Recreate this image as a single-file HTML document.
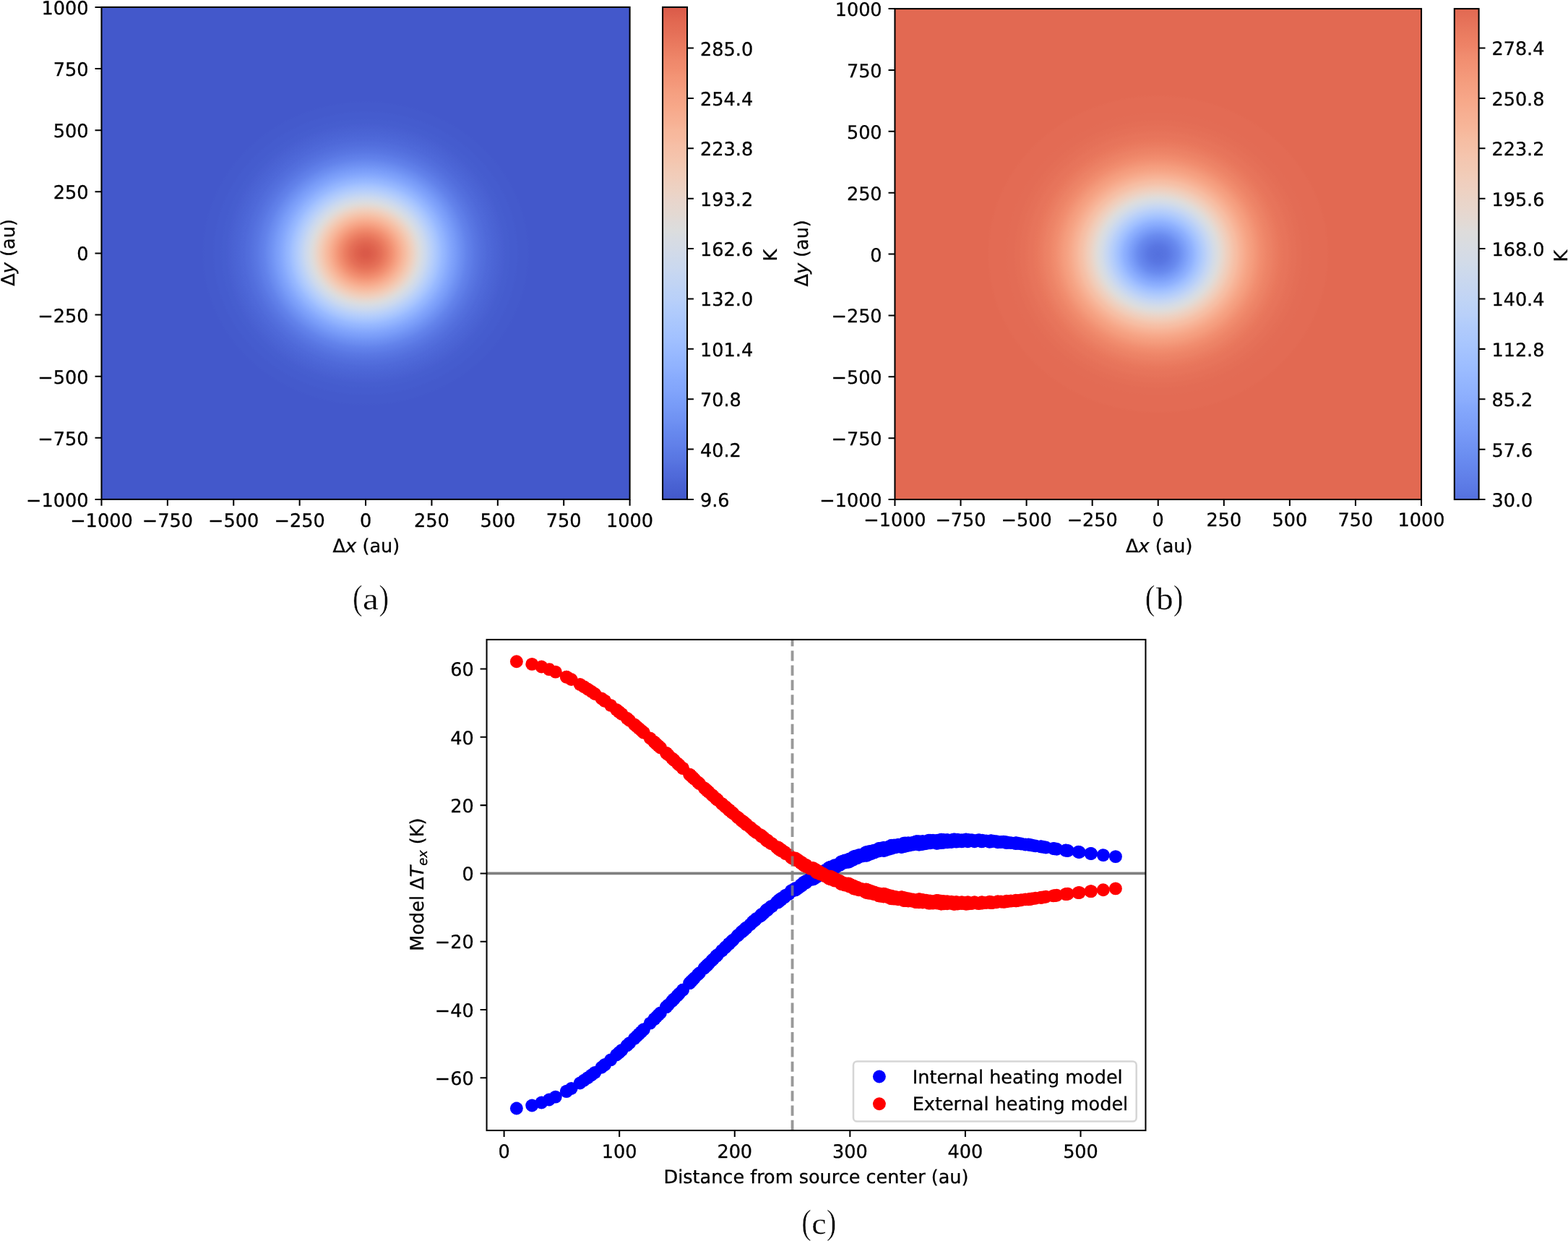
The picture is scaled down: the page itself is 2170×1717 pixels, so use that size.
<!DOCTYPE html>
<html lang="en"><head><meta charset="utf-8"><title>Heating models</title>
<style>html,body{margin:0;padding:0;background:#fff}svg{display:block}text{text-rendering:geometricPrecision}</style></head>
<body><svg width="2170" height="1717" viewBox="0 0 2170 1717"><rect width="2170" height="1717" fill="#fff"/><defs><radialGradient id="ga" gradientUnits="userSpaceOnUse" cx="0" cy="0" r="800" gradientTransform="translate(506.04 350.4) scale(0.36556 0.34050)"><stop offset="0%" stop-color="#da5a49"/><stop offset="1.25%" stop-color="#da5a49"/><stop offset="2.5%" stop-color="#dc5d4a"/><stop offset="3.75%" stop-color="#de614d"/><stop offset="5%" stop-color="#e0654f"/><stop offset="6.25%" stop-color="#e36b54"/><stop offset="7.5%" stop-color="#e57058"/><stop offset="8.75%" stop-color="#e9785d"/><stop offset="10%" stop-color="#ec7f63"/><stop offset="11.25%" stop-color="#ef886b"/><stop offset="12.5%" stop-color="#f29072"/><stop offset="13.75%" stop-color="#f49a7b"/><stop offset="15%" stop-color="#f6a385"/><stop offset="16.25%" stop-color="#f7ac8e"/><stop offset="17.5%" stop-color="#f7b599"/><stop offset="18.75%" stop-color="#f6bda2"/><stop offset="20%" stop-color="#f4c5ad"/><stop offset="21.25%" stop-color="#f1ccb8"/><stop offset="22.5%" stop-color="#edd2c3"/><stop offset="23.75%" stop-color="#e6d7cf"/><stop offset="25%" stop-color="#dfdbd9"/><stop offset="26.25%" stop-color="#d8dce2"/><stop offset="27.5%" stop-color="#d1dae9"/><stop offset="28.75%" stop-color="#cad8ef"/><stop offset="30%" stop-color="#c1d4f4"/><stop offset="31.25%" stop-color="#b9d0f9"/><stop offset="32.5%" stop-color="#b1cbfc"/><stop offset="33.75%" stop-color="#a9c6fd"/><stop offset="35%" stop-color="#a1c0ff"/><stop offset="36.25%" stop-color="#98b9ff"/><stop offset="37.5%" stop-color="#92b4fe"/><stop offset="38.75%" stop-color="#8badfd"/><stop offset="40%" stop-color="#84a7fc"/><stop offset="41.25%" stop-color="#7ea1fa"/><stop offset="42.5%" stop-color="#799cf8"/><stop offset="43.75%" stop-color="#7396f5"/><stop offset="45%" stop-color="#6e90f2"/><stop offset="46.25%" stop-color="#6a8bef"/><stop offset="47.5%" stop-color="#6485ec"/><stop offset="48.75%" stop-color="#6180e9"/><stop offset="50%" stop-color="#5e7de7"/><stop offset="51.25%" stop-color="#5a78e4"/><stop offset="52.5%" stop-color="#5875e1"/><stop offset="53.75%" stop-color="#5572df"/><stop offset="55%" stop-color="#536edd"/><stop offset="56.25%" stop-color="#516ddb"/><stop offset="57.5%" stop-color="#4f69d9"/><stop offset="58.75%" stop-color="#4e68d8"/><stop offset="60%" stop-color="#4c66d6"/><stop offset="61.25%" stop-color="#4b64d5"/><stop offset="62.5%" stop-color="#4a63d3"/><stop offset="63.75%" stop-color="#4961d2"/><stop offset="65%" stop-color="#485fd1"/><stop offset="66.25%" stop-color="#465ecf"/><stop offset="67.5%" stop-color="#465ecf"/><stop offset="68.75%" stop-color="#455cce"/><stop offset="70%" stop-color="#455cce"/><stop offset="71.25%" stop-color="#455cce"/><stop offset="72.5%" stop-color="#445acc"/><stop offset="73.75%" stop-color="#445acc"/><stop offset="75%" stop-color="#445acc"/><stop offset="76.25%" stop-color="#445acc"/><stop offset="77.5%" stop-color="#4358cb"/><stop offset="78.75%" stop-color="#4358cb"/><stop offset="80%" stop-color="#4358cb"/><stop offset="81.25%" stop-color="#4358cb"/><stop offset="82.5%" stop-color="#4358cb"/><stop offset="83.75%" stop-color="#4358cb"/><stop offset="85%" stop-color="#4358cb"/><stop offset="86.25%" stop-color="#4358cb"/><stop offset="87.5%" stop-color="#4358cb"/><stop offset="88.75%" stop-color="#4358cb"/><stop offset="90%" stop-color="#4358cb"/><stop offset="91.25%" stop-color="#4358cb"/><stop offset="92.5%" stop-color="#4358cb"/><stop offset="93.75%" stop-color="#4358cb"/><stop offset="95%" stop-color="#4358cb"/><stop offset="96.25%" stop-color="#4358cb"/><stop offset="97.5%" stop-color="#4358cb"/><stop offset="98.75%" stop-color="#4358cb"/><stop offset="100%" stop-color="#4358cb"/></radialGradient><linearGradient id="ca" x1="0" y1="0" x2="0" y2="1"><stop offset="0%" stop-color="#da5a49"/><stop offset="1.56%" stop-color="#de614d"/><stop offset="3.12%" stop-color="#e26952"/><stop offset="4.69%" stop-color="#e46e56"/><stop offset="6.25%" stop-color="#e7745b"/><stop offset="7.81%" stop-color="#ea7b60"/><stop offset="9.38%" stop-color="#ec8165"/><stop offset="10.94%" stop-color="#ef886b"/><stop offset="12.5%" stop-color="#f18d6f"/><stop offset="14.06%" stop-color="#f39475"/><stop offset="15.62%" stop-color="#f4987a"/><stop offset="17.19%" stop-color="#f59f80"/><stop offset="18.75%" stop-color="#f6a385"/><stop offset="20.31%" stop-color="#f7a889"/><stop offset="21.88%" stop-color="#f7ad90"/><stop offset="23.44%" stop-color="#f7b194"/><stop offset="25%" stop-color="#f7b79b"/><stop offset="26.56%" stop-color="#f7ba9f"/><stop offset="28.12%" stop-color="#f6bfa6"/><stop offset="29.69%" stop-color="#f5c2aa"/><stop offset="31.25%" stop-color="#f4c6af"/><stop offset="32.81%" stop-color="#f2cab5"/><stop offset="34.38%" stop-color="#f1cdba"/><stop offset="35.94%" stop-color="#eed0c0"/><stop offset="37.5%" stop-color="#ecd3c5"/><stop offset="39.06%" stop-color="#e9d5cb"/><stop offset="40.62%" stop-color="#e6d7cf"/><stop offset="42.19%" stop-color="#e3d9d3"/><stop offset="43.75%" stop-color="#dfdbd9"/><stop offset="45.31%" stop-color="#dcdddd"/><stop offset="46.88%" stop-color="#d8dce2"/><stop offset="48.44%" stop-color="#d5dbe5"/><stop offset="50%" stop-color="#d1dae9"/><stop offset="51.56%" stop-color="#cdd9ec"/><stop offset="53.12%" stop-color="#cad8ef"/><stop offset="54.69%" stop-color="#c5d6f2"/><stop offset="56.25%" stop-color="#c1d4f4"/><stop offset="57.81%" stop-color="#bcd2f7"/><stop offset="59.38%" stop-color="#b9d0f9"/><stop offset="60.94%" stop-color="#b3cdfb"/><stop offset="62.5%" stop-color="#afcafc"/><stop offset="64.06%" stop-color="#aac7fd"/><stop offset="65.62%" stop-color="#a6c4fe"/><stop offset="67.19%" stop-color="#a2c1ff"/><stop offset="68.75%" stop-color="#9dbdff"/><stop offset="70.31%" stop-color="#98b9ff"/><stop offset="71.88%" stop-color="#93b5fe"/><stop offset="73.44%" stop-color="#8fb1fe"/><stop offset="75%" stop-color="#89acfd"/><stop offset="76.56%" stop-color="#85a8fc"/><stop offset="78.12%" stop-color="#81a4fb"/><stop offset="79.69%" stop-color="#7b9ff9"/><stop offset="81.25%" stop-color="#779af7"/><stop offset="82.81%" stop-color="#7295f4"/><stop offset="84.38%" stop-color="#6e90f2"/><stop offset="85.94%" stop-color="#688aef"/><stop offset="87.5%" stop-color="#6485ec"/><stop offset="89.06%" stop-color="#6180e9"/><stop offset="90.62%" stop-color="#5b7ae5"/><stop offset="92.19%" stop-color="#5875e1"/><stop offset="93.75%" stop-color="#536edd"/><stop offset="95.31%" stop-color="#4f69d9"/><stop offset="96.88%" stop-color="#4a63d3"/><stop offset="98.44%" stop-color="#465ecf"/><stop offset="100%" stop-color="#4358cb"/></linearGradient><radialGradient id="gb" gradientUnits="userSpaceOnUse" cx="0" cy="0" r="800" gradientTransform="translate(1602.74 351.57) scale(0.36429 0.33947)"><stop offset="0%" stop-color="#5470de"/><stop offset="1.25%" stop-color="#5572df"/><stop offset="2.5%" stop-color="#5673e0"/><stop offset="3.75%" stop-color="#5875e1"/><stop offset="5%" stop-color="#5a78e4"/><stop offset="6.25%" stop-color="#5e7de7"/><stop offset="7.5%" stop-color="#6282ea"/><stop offset="8.75%" stop-color="#6687ed"/><stop offset="10%" stop-color="#6b8df0"/><stop offset="11.25%" stop-color="#7295f4"/><stop offset="12.5%" stop-color="#799cf8"/><stop offset="13.75%" stop-color="#80a3fa"/><stop offset="15%" stop-color="#88abfd"/><stop offset="16.25%" stop-color="#8fb1fe"/><stop offset="17.5%" stop-color="#98b9ff"/><stop offset="18.75%" stop-color="#a1c0ff"/><stop offset="20%" stop-color="#a9c6fd"/><stop offset="21.25%" stop-color="#b2ccfb"/><stop offset="22.5%" stop-color="#bad0f8"/><stop offset="23.75%" stop-color="#c3d5f4"/><stop offset="25%" stop-color="#cad8ef"/><stop offset="26.25%" stop-color="#d2dbe8"/><stop offset="27.5%" stop-color="#d8dce2"/><stop offset="28.75%" stop-color="#dedcdb"/><stop offset="30%" stop-color="#e4d9d2"/><stop offset="31.25%" stop-color="#ead5c9"/><stop offset="32.5%" stop-color="#eed0c0"/><stop offset="33.75%" stop-color="#f1ccb8"/><stop offset="35%" stop-color="#f4c6af"/><stop offset="36.25%" stop-color="#f5c0a7"/><stop offset="37.5%" stop-color="#f7bca1"/><stop offset="38.75%" stop-color="#f7b599"/><stop offset="40%" stop-color="#f7b093"/><stop offset="41.25%" stop-color="#f7aa8c"/><stop offset="42.5%" stop-color="#f6a586"/><stop offset="43.75%" stop-color="#f5a081"/><stop offset="45%" stop-color="#f59c7d"/><stop offset="46.25%" stop-color="#f39778"/><stop offset="47.5%" stop-color="#f29274"/><stop offset="48.75%" stop-color="#f18d6f"/><stop offset="50%" stop-color="#f08a6c"/><stop offset="51.25%" stop-color="#ee8669"/><stop offset="52.5%" stop-color="#ed8366"/><stop offset="53.75%" stop-color="#ec8165"/><stop offset="55%" stop-color="#eb7d62"/><stop offset="56.25%" stop-color="#ea7b60"/><stop offset="57.5%" stop-color="#e9785d"/><stop offset="58.75%" stop-color="#e8765c"/><stop offset="60%" stop-color="#e7745b"/><stop offset="61.25%" stop-color="#e7745b"/><stop offset="62.5%" stop-color="#e67259"/><stop offset="63.75%" stop-color="#e57058"/><stop offset="65%" stop-color="#e57058"/><stop offset="66.25%" stop-color="#e46e56"/><stop offset="67.5%" stop-color="#e46e56"/><stop offset="68.75%" stop-color="#e36c55"/><stop offset="70%" stop-color="#e36c55"/><stop offset="71.25%" stop-color="#e36c55"/><stop offset="72.5%" stop-color="#e36b54"/><stop offset="73.75%" stop-color="#e36b54"/><stop offset="75%" stop-color="#e36b54"/><stop offset="76.25%" stop-color="#e36b54"/><stop offset="77.5%" stop-color="#e36b54"/><stop offset="78.75%" stop-color="#e36b54"/><stop offset="80%" stop-color="#e36b54"/><stop offset="81.25%" stop-color="#e26952"/><stop offset="82.5%" stop-color="#e26952"/><stop offset="83.75%" stop-color="#e26952"/><stop offset="85%" stop-color="#e26952"/><stop offset="86.25%" stop-color="#e26952"/><stop offset="87.5%" stop-color="#e26952"/><stop offset="88.75%" stop-color="#e26952"/><stop offset="90%" stop-color="#e26952"/><stop offset="91.25%" stop-color="#e26952"/><stop offset="92.5%" stop-color="#e26952"/><stop offset="93.75%" stop-color="#e26952"/><stop offset="95%" stop-color="#e26952"/><stop offset="96.25%" stop-color="#e26952"/><stop offset="97.5%" stop-color="#e26952"/><stop offset="98.75%" stop-color="#e26952"/><stop offset="100%" stop-color="#e26952"/></radialGradient><linearGradient id="cb" x1="0" y1="0" x2="0" y2="1"><stop offset="0%" stop-color="#e26952"/><stop offset="1.56%" stop-color="#e46e56"/><stop offset="3.12%" stop-color="#e7745b"/><stop offset="4.69%" stop-color="#e97a5f"/><stop offset="6.25%" stop-color="#ec7f63"/><stop offset="7.81%" stop-color="#ee8468"/><stop offset="9.38%" stop-color="#f08b6e"/><stop offset="10.94%" stop-color="#f29072"/><stop offset="12.5%" stop-color="#f39577"/><stop offset="14.06%" stop-color="#f49a7b"/><stop offset="15.62%" stop-color="#f59f80"/><stop offset="17.19%" stop-color="#f6a385"/><stop offset="18.75%" stop-color="#f7a889"/><stop offset="20.31%" stop-color="#f7ac8e"/><stop offset="21.88%" stop-color="#f7b093"/><stop offset="23.44%" stop-color="#f7b497"/><stop offset="25%" stop-color="#f7b89c"/><stop offset="26.56%" stop-color="#f6bda2"/><stop offset="28.12%" stop-color="#f5c0a7"/><stop offset="29.69%" stop-color="#f5c4ac"/><stop offset="31.25%" stop-color="#f3c7b1"/><stop offset="32.81%" stop-color="#f2cab5"/><stop offset="34.38%" stop-color="#f1cdba"/><stop offset="35.94%" stop-color="#efcfbf"/><stop offset="37.5%" stop-color="#edd2c3"/><stop offset="39.06%" stop-color="#ead4c8"/><stop offset="40.62%" stop-color="#e8d6cc"/><stop offset="42.19%" stop-color="#e5d8d1"/><stop offset="43.75%" stop-color="#e2dad5"/><stop offset="45.31%" stop-color="#dedcdb"/><stop offset="46.88%" stop-color="#dbdcde"/><stop offset="48.44%" stop-color="#d8dce2"/><stop offset="50%" stop-color="#d5dbe5"/><stop offset="51.56%" stop-color="#d2dbe8"/><stop offset="53.12%" stop-color="#cedaeb"/><stop offset="54.69%" stop-color="#cbd8ee"/><stop offset="56.25%" stop-color="#c7d7f0"/><stop offset="57.81%" stop-color="#c4d5f3"/><stop offset="59.38%" stop-color="#c0d4f5"/><stop offset="60.94%" stop-color="#bcd2f7"/><stop offset="62.5%" stop-color="#b9d0f9"/><stop offset="64.06%" stop-color="#b3cdfb"/><stop offset="65.62%" stop-color="#afcafc"/><stop offset="67.19%" stop-color="#abc8fd"/><stop offset="68.75%" stop-color="#a7c5fe"/><stop offset="70.31%" stop-color="#a3c2fe"/><stop offset="71.88%" stop-color="#9fbfff"/><stop offset="73.44%" stop-color="#9bbcff"/><stop offset="75%" stop-color="#97b8ff"/><stop offset="76.56%" stop-color="#93b5fe"/><stop offset="78.12%" stop-color="#8fb1fe"/><stop offset="79.69%" stop-color="#8badfd"/><stop offset="81.25%" stop-color="#85a8fc"/><stop offset="82.81%" stop-color="#81a4fb"/><stop offset="84.38%" stop-color="#7da0f9"/><stop offset="85.94%" stop-color="#799cf8"/><stop offset="87.5%" stop-color="#7597f6"/><stop offset="89.06%" stop-color="#7093f3"/><stop offset="90.62%" stop-color="#6c8ff1"/><stop offset="92.19%" stop-color="#688aef"/><stop offset="93.75%" stop-color="#6485ec"/><stop offset="95.31%" stop-color="#6180e9"/><stop offset="96.88%" stop-color="#5d7ce6"/><stop offset="98.44%" stop-color="#5977e3"/><stop offset="100%" stop-color="#5470de"/></linearGradient></defs>
<rect x="140.47" y="9.9" width="731.13" height="681" fill="url(#ga)"/>
<rect x="917.07" y="9.9" width="33.93" height="681" fill="url(#ca)"/>
<path d="M140.47 690.9v8.96M140.47 690.9h-8.96M231.86 690.9v8.96M140.47 605.77h-8.96M323.25 690.9v8.96M140.47 520.65h-8.96M414.64 690.9v8.96M140.47 435.52h-8.96M506.03 690.9v8.96M140.47 350.4h-8.96M597.43 690.9v8.96M140.47 265.27h-8.96M688.82 690.9v8.96M140.47 180.15h-8.96M780.21 690.9v8.96M140.47 95.02h-8.96M871.6 690.9v8.96M140.47 9.9h-8.96M951 690.9h8.96M951 621.53h8.96M951 552.16h8.96M951 482.79h8.96M951 413.42h8.96M951 344.05h8.96M951 274.68h8.96M951 205.31h8.96M951 135.94h8.96M951 66.57h8.96" stroke="#000" stroke-width="2.05" fill="none"/>
<rect x="140.47" y="9.9" width="731.13" height="681" fill="none" stroke="#000" stroke-width="2.05" stroke-linejoin="miter"/>
<rect x="917.07" y="9.9" width="33.93" height="681" fill="none" stroke="#000" stroke-width="2.05" stroke-linejoin="miter"/>
<g font-family="'DejaVu Sans','Liberation Sans',sans-serif" font-size="25.6" fill="#000" stroke="#000" stroke-width="0.3"><text x="140.47" y="728.5" text-anchor="middle">−1000</text><text x="231.86" y="728.5" text-anchor="middle">−750</text><text x="323.25" y="728.5" text-anchor="middle">−500</text><text x="414.64" y="728.5" text-anchor="middle">−250</text><text x="506.03" y="728.5" text-anchor="middle">0</text><text x="597.43" y="728.5" text-anchor="middle">250</text><text x="688.82" y="728.5" text-anchor="middle">500</text><text x="780.21" y="728.5" text-anchor="middle">750</text><text x="871.6" y="728.5" text-anchor="middle">1000</text><text x="122.55" y="700.9" text-anchor="end">−1000</text><text x="122.55" y="615.77" text-anchor="end">−750</text><text x="122.55" y="530.65" text-anchor="end">−500</text><text x="122.55" y="445.52" text-anchor="end">−250</text><text x="122.55" y="360.4" text-anchor="end">0</text><text x="122.55" y="275.27" text-anchor="end">250</text><text x="122.55" y="190.15" text-anchor="end">500</text><text x="122.55" y="105.02" text-anchor="end">750</text><text x="122.55" y="19.9" text-anchor="end">1000</text><text x="968.92" y="700.9">9.6</text><text x="968.92" y="631.53">40.2</text><text x="968.92" y="562.16">70.8</text><text x="968.92" y="492.79">101.4</text><text x="968.92" y="423.42">132.0</text><text x="968.92" y="354.05">162.6</text><text x="968.92" y="284.68">193.2</text><text x="968.92" y="215.31">223.8</text><text x="968.92" y="145.94">254.4</text><text x="968.92" y="76.57">285.0</text><text x="506.94" y="763.8" text-anchor="middle">Δ<tspan font-style="italic">x</tspan> (au)</text><text transform="translate(19.7 349.4) rotate(-90)" text-anchor="middle">Δ<tspan font-style="italic">y</tspan> (au)</text><text transform="translate(1074.8 353.05) rotate(-90)" text-anchor="middle">K</text></g>
<rect x="1238.45" y="12.1" width="728.58" height="678.94" fill="url(#gb)"/>
<rect x="2012.8" y="12.1" width="33.8" height="678.94" fill="url(#cb)"/>
<path d="M1238.45 691.04v8.92M1238.45 691.04h-8.92M1329.52 691.04v8.92M1238.45 606.17h-8.92M1420.6 691.04v8.92M1238.45 521.3h-8.92M1511.67 691.04v8.92M1238.45 436.44h-8.92M1602.74 691.04v8.92M1238.45 351.57h-8.92M1693.81 691.04v8.92M1238.45 266.7h-8.92M1784.88 691.04v8.92M1238.45 181.83h-8.92M1875.96 691.04v8.92M1238.45 96.97h-8.92M1967.03 691.04v8.92M1238.45 12.1h-8.92M2046.6 691.04h8.92M2046.6 621.65h8.92M2046.6 552.26h8.92M2046.6 482.87h8.92M2046.6 413.48h8.92M2046.6 344.09h8.92M2046.6 274.7h8.92M2046.6 205.31h8.92M2046.6 135.92h8.92M2046.6 66.53h8.92" stroke="#000" stroke-width="2.04" fill="none"/>
<rect x="1238.45" y="12.1" width="728.58" height="678.94" fill="none" stroke="#000" stroke-width="2.04" stroke-linejoin="miter"/>
<rect x="2012.8" y="12.1" width="33.8" height="678.94" fill="none" stroke="#000" stroke-width="2.04" stroke-linejoin="miter"/>
<g font-family="'DejaVu Sans','Liberation Sans',sans-serif" font-size="25.5" fill="#000" stroke="#000" stroke-width="0.3"><text x="1238.45" y="728.04" text-anchor="middle">−1000</text><text x="1329.52" y="728.04" text-anchor="middle">−750</text><text x="1420.6" y="728.04" text-anchor="middle">−500</text><text x="1511.67" y="728.04" text-anchor="middle">−250</text><text x="1602.74" y="728.04" text-anchor="middle">0</text><text x="1693.81" y="728.04" text-anchor="middle">250</text><text x="1784.88" y="728.04" text-anchor="middle">500</text><text x="1875.96" y="728.04" text-anchor="middle">750</text><text x="1967.03" y="728.04" text-anchor="middle">1000</text><text x="1220.6" y="701" text-anchor="end">−1000</text><text x="1220.6" y="616.13" text-anchor="end">−750</text><text x="1220.6" y="531.27" text-anchor="end">−500</text><text x="1220.6" y="446.4" text-anchor="end">−250</text><text x="1220.6" y="361.53" text-anchor="end">0</text><text x="1220.6" y="276.66" text-anchor="end">250</text><text x="1220.6" y="191.8" text-anchor="end">500</text><text x="1220.6" y="106.93" text-anchor="end">750</text><text x="1220.6" y="22.06" text-anchor="end">1000</text><text x="2064.45" y="701">30.0</text><text x="2064.45" y="631.61">57.6</text><text x="2064.45" y="562.22">85.2</text><text x="2064.45" y="492.83">112.8</text><text x="2064.45" y="423.44">140.4</text><text x="2064.45" y="354.05">168.0</text><text x="2064.45" y="284.66">195.6</text><text x="2064.45" y="215.27">223.2</text><text x="2064.45" y="145.88">250.8</text><text x="2064.45" y="76.49">278.4</text><text x="1604.24" y="763.8" text-anchor="middle">Δ<tspan font-style="italic">x</tspan> (au)</text><text transform="translate(1118.4 350.37) rotate(-90)" text-anchor="middle">Δ<tspan font-style="italic">y</tspan> (au)</text><text transform="translate(2169.2 354.22) rotate(-90)" text-anchor="middle">K</text></g>
<path d="M673.55 1208.4H1585.45" stroke="#808080" stroke-width="3.83" fill="none"/>
<g fill="#0000ff"><circle cx="714.87" cy="1533.52" r="8.94"/><circle cx="736.22" cy="1529.48" r="8.94"/><circle cx="749.41" cy="1525.47" r="8.94"/><circle cx="759.87" cy="1521.5" r="8.94"/><circle cx="768.81" cy="1517.58" r="8.94"/><circle cx="783.96" cy="1509.83" r="8.94"/><circle cx="783.96" cy="1509.83" r="8.94"/><circle cx="790.61" cy="1506.01" r="8.94"/><circle cx="802.66" cy="1498.48" r="8.94"/><circle cx="808.19" cy="1494.77" r="8.94"/><circle cx="813.46" cy="1491.09" r="8.94"/><circle cx="818.5" cy="1487.45" r="8.94"/><circle cx="823.34" cy="1483.84" r="8.94"/><circle cx="832.49" cy="1476.73" r="8.94"/><circle cx="836.85" cy="1473.23" r="8.94"/><circle cx="836.85" cy="1473.23" r="8.94"/><circle cx="845.17" cy="1466.32" r="8.94"/><circle cx="853.04" cy="1459.55" r="8.94"/><circle cx="856.83" cy="1456.21" r="8.94"/><circle cx="856.83" cy="1456.21" r="8.94"/><circle cx="860.54" cy="1452.9" r="8.94"/><circle cx="867.7" cy="1446.38" r="8.94"/><circle cx="871.17" cy="1443.17" r="8.94"/><circle cx="877.92" cy="1436.84" r="8.94"/><circle cx="881.2" cy="1433.72" r="8.94"/><circle cx="884.42" cy="1430.63" r="8.94"/><circle cx="887.58" cy="1427.57" r="8.94"/><circle cx="890.7" cy="1424.53" r="8.94"/><circle cx="890.7" cy="1424.53" r="8.94"/><circle cx="899.76" cy="1415.62" r="8.94"/><circle cx="905.57" cy="1409.82" r="8.94"/><circle cx="905.57" cy="1409.82" r="8.94"/><circle cx="908.42" cy="1406.96" r="8.94"/><circle cx="911.23" cy="1404.13" r="8.94"/><circle cx="914.01" cy="1401.33" r="8.94"/><circle cx="922.13" cy="1393.09" r="8.94"/><circle cx="922.13" cy="1393.09" r="8.94"/><circle cx="924.77" cy="1390.39" r="8.94"/><circle cx="929.96" cy="1385.09" r="8.94"/><circle cx="932.52" cy="1382.47" r="8.94"/><circle cx="932.52" cy="1382.47" r="8.94"/><circle cx="937.54" cy="1377.32" r="8.94"/><circle cx="940.01" cy="1374.78" r="8.94"/><circle cx="944.89" cy="1369.78" r="8.94"/><circle cx="944.89" cy="1369.78" r="8.94"/><circle cx="954.36" cy="1360.08" r="8.94"/><circle cx="954.36" cy="1360.08" r="8.94"/><circle cx="956.67" cy="1357.71" r="8.94"/><circle cx="956.67" cy="1357.71" r="8.94"/><circle cx="958.96" cy="1355.37" r="8.94"/><circle cx="961.24" cy="1353.05" r="8.94"/><circle cx="965.72" cy="1348.48" r="8.94"/><circle cx="967.94" cy="1346.23" r="8.94"/><circle cx="974.48" cy="1339.62" r="8.94"/><circle cx="976.63" cy="1337.46" r="8.94"/><circle cx="978.76" cy="1335.32" r="8.94"/><circle cx="978.76" cy="1335.32" r="8.94"/><circle cx="980.87" cy="1333.2" r="8.94"/><circle cx="985.05" cy="1329.03" r="8.94"/><circle cx="987.12" cy="1326.98" r="8.94"/><circle cx="991.21" cy="1322.93" r="8.94"/><circle cx="991.21" cy="1322.94" r="8.94"/><circle cx="993.24" cy="1320.93" r="8.94"/><circle cx="999.23" cy="1315.07" r="8.94"/><circle cx="999.23" cy="1315.1" r="8.94"/><circle cx="1003.16" cy="1311.36" r="8.94"/><circle cx="1005.11" cy="1309.49" r="8.94"/><circle cx="1008.96" cy="1305.64" r="8.94"/><circle cx="1008.96" cy="1305.72" r="8.94"/><circle cx="1008.96" cy="1305.81" r="8.94"/><circle cx="1012.77" cy="1302.03" r="8.94"/><circle cx="1014.66" cy="1300.43" r="8.94"/><circle cx="1020.25" cy="1295.04" r="8.94"/><circle cx="1022.1" cy="1293.48" r="8.94"/><circle cx="1025.75" cy="1289.81" r="8.94"/><circle cx="1027.57" cy="1288.16" r="8.94"/><circle cx="1027.57" cy="1288.73" r="8.94"/><circle cx="1029.37" cy="1287.09" r="8.94"/><circle cx="1031.16" cy="1285.16" r="8.94"/><circle cx="1032.95" cy="1283.34" r="8.94"/><circle cx="1032.95" cy="1283.86" r="8.94"/><circle cx="1038.24" cy="1279.13" r="8.94"/><circle cx="1041.73" cy="1275.68" r="8.94"/><circle cx="1043.46" cy="1273.83" r="8.94"/><circle cx="1045.18" cy="1273.02" r="8.94"/><circle cx="1046.89" cy="1270.92" r="8.94"/><circle cx="1051.98" cy="1267.75" r="8.94"/><circle cx="1053.66" cy="1265.3" r="8.94"/><circle cx="1053.66" cy="1265.7" r="8.94"/><circle cx="1053.66" cy="1266.32" r="8.94"/><circle cx="1056.99" cy="1263.5" r="8.94"/><circle cx="1060.3" cy="1259.41" r="8.94"/><circle cx="1061.94" cy="1258.11" r="8.94"/><circle cx="1061.94" cy="1259.37" r="8.94"/><circle cx="1063.57" cy="1257.38" r="8.94"/><circle cx="1066.82" cy="1254.3" r="8.94"/><circle cx="1068.43" cy="1254.05" r="8.94"/><circle cx="1074.81" cy="1248.28" r="8.94"/><circle cx="1076.39" cy="1247.68" r="8.94"/><circle cx="1076.39" cy="1248.64" r="8.94"/><circle cx="1077.96" cy="1245.25" r="8.94"/><circle cx="1077.96" cy="1247.4" r="8.94"/><circle cx="1081.09" cy="1243" r="8.94"/><circle cx="1081.09" cy="1244.97" r="8.94"/><circle cx="1085.72" cy="1240.45" r="8.94"/><circle cx="1085.72" cy="1241.4" r="8.94"/><circle cx="1087.26" cy="1238.67" r="8.94"/><circle cx="1091.82" cy="1236.81" r="8.94"/><circle cx="1094.84" cy="1232.66" r="8.94"/><circle cx="1096.34" cy="1231.68" r="8.94"/><circle cx="1096.34" cy="1232.57" r="8.94"/><circle cx="1099.32" cy="1231.33" r="8.94"/><circle cx="1100.8" cy="1228.82" r="8.94"/><circle cx="1100.8" cy="1231.55" r="8.94"/><circle cx="1102.28" cy="1230.49" r="8.94"/><circle cx="1105.22" cy="1228.41" r="8.94"/><circle cx="1108.13" cy="1224.29" r="8.94"/><circle cx="1108.13" cy="1225.13" r="8.94"/><circle cx="1109.58" cy="1225.36" r="8.94"/><circle cx="1112.47" cy="1220.66" r="8.94"/><circle cx="1115.34" cy="1219.01" r="8.94"/><circle cx="1115.34" cy="1221.45" r="8.94"/><circle cx="1118.18" cy="1218.41" r="8.94"/><circle cx="1121.01" cy="1215.83" r="8.94"/><circle cx="1122.42" cy="1216.8" r="8.94"/><circle cx="1125.22" cy="1216.55" r="8.94"/><circle cx="1126.61" cy="1215.65" r="8.94"/><circle cx="1129.38" cy="1210.21" r="8.94"/><circle cx="1129.38" cy="1211.36" r="8.94"/><circle cx="1129.38" cy="1213.9" r="8.94"/><circle cx="1130.76" cy="1209.51" r="8.94"/><circle cx="1130.76" cy="1211.56" r="8.94"/><circle cx="1133.51" cy="1211.33" r="8.94"/><circle cx="1134.87" cy="1207.46" r="8.94"/><circle cx="1138.95" cy="1208.05" r="8.94"/><circle cx="1140.3" cy="1205.91" r="8.94"/><circle cx="1141.64" cy="1204.23" r="8.94"/><circle cx="1145.66" cy="1204.17" r="8.94"/><circle cx="1146.99" cy="1200.56" r="8.94"/><circle cx="1149.63" cy="1199.41" r="8.94"/><circle cx="1149.63" cy="1203.63" r="8.94"/><circle cx="1150.95" cy="1200.03" r="8.94"/><circle cx="1150.95" cy="1202.89" r="8.94"/><circle cx="1153.58" cy="1199.82" r="8.94"/><circle cx="1153.58" cy="1201.43" r="8.94"/><circle cx="1154.88" cy="1197.21" r="8.94"/><circle cx="1157.48" cy="1199.32" r="8.94"/><circle cx="1162.64" cy="1194.12" r="8.94"/><circle cx="1162.64" cy="1195.16" r="8.94"/><circle cx="1162.64" cy="1196.62" r="8.94"/><circle cx="1163.93" cy="1192.38" r="8.94"/><circle cx="1165.2" cy="1191.91" r="8.94"/><circle cx="1169.01" cy="1190.54" r="8.94"/><circle cx="1169.01" cy="1193.44" r="8.94"/><circle cx="1172.8" cy="1190.36" r="8.94"/><circle cx="1174.05" cy="1192.74" r="8.94"/><circle cx="1175.3" cy="1188.38" r="8.94"/><circle cx="1175.3" cy="1192.14" r="8.94"/><circle cx="1176.55" cy="1189.91" r="8.94"/><circle cx="1177.79" cy="1190.96" r="8.94"/><circle cx="1181.5" cy="1185.13" r="8.94"/><circle cx="1181.5" cy="1189.25" r="8.94"/><circle cx="1183.96" cy="1184.39" r="8.94"/><circle cx="1183.96" cy="1185.58" r="8.94"/><circle cx="1185.19" cy="1186.16" r="8.94"/><circle cx="1186.41" cy="1187.09" r="8.94"/><circle cx="1188.85" cy="1182.97" r="8.94"/><circle cx="1192.48" cy="1184.57" r="8.94"/><circle cx="1194.88" cy="1182.33" r="8.94"/><circle cx="1196.08" cy="1180.97" r="8.94"/><circle cx="1198.47" cy="1179.15" r="8.94"/><circle cx="1198.47" cy="1183.85" r="8.94"/><circle cx="1199.66" cy="1178.86" r="8.94"/><circle cx="1199.66" cy="1181.79" r="8.94"/><circle cx="1199.66" cy="1183.38" r="8.94"/><circle cx="1202.03" cy="1182.47" r="8.94"/><circle cx="1203.21" cy="1178.01" r="8.94"/><circle cx="1205.56" cy="1178.55" r="8.94"/><circle cx="1205.56" cy="1181.14" r="8.94"/><circle cx="1207.91" cy="1178.86" r="8.94"/><circle cx="1209.08" cy="1176.66" r="8.94"/><circle cx="1210.24" cy="1179.48" r="8.94"/><circle cx="1216.03" cy="1174.03" r="8.94"/><circle cx="1216.03" cy="1177.54" r="8.94"/><circle cx="1217.18" cy="1174.94" r="8.94"/><circle cx="1217.18" cy="1175.89" r="8.94"/><circle cx="1218.32" cy="1173.59" r="8.94"/><circle cx="1222.89" cy="1172.76" r="8.94"/><circle cx="1222.89" cy="1175.41" r="8.94"/><circle cx="1222.89" cy="1176.97" r="8.94"/><circle cx="1224.02" cy="1176.61" r="8.94"/><circle cx="1226.28" cy="1175.92" r="8.94"/><circle cx="1227.41" cy="1172.99" r="8.94"/><circle cx="1229.66" cy="1171.61" r="8.94"/><circle cx="1229.66" cy="1174.93" r="8.94"/><circle cx="1230.78" cy="1173.2" r="8.94"/><circle cx="1233.01" cy="1169.96" r="8.94"/><circle cx="1234.12" cy="1169.81" r="8.94"/><circle cx="1234.12" cy="1173.69" r="8.94"/><circle cx="1237.45" cy="1169.36" r="8.94"/><circle cx="1238.55" cy="1170.26" r="8.94"/><circle cx="1239.65" cy="1170.97" r="8.94"/><circle cx="1239.65" cy="1172.25" r="8.94"/><circle cx="1242.95" cy="1168.66" r="8.94"/><circle cx="1246.22" cy="1170.69" r="8.94"/><circle cx="1247.31" cy="1171.94" r="8.94"/><circle cx="1248.39" cy="1171.68" r="8.94"/><circle cx="1249.47" cy="1168.84" r="8.94"/><circle cx="1250.55" cy="1166.71" r="8.94"/><circle cx="1250.55" cy="1167.8" r="8.94"/><circle cx="1250.55" cy="1171.18" r="8.94"/><circle cx="1252.71" cy="1166.52" r="8.94"/><circle cx="1253.78" cy="1169.08" r="8.94"/><circle cx="1253.78" cy="1170.47" r="8.94"/><circle cx="1256.99" cy="1166.15" r="8.94"/><circle cx="1258.05" cy="1169.58" r="8.94"/><circle cx="1260.18" cy="1166.88" r="8.94"/><circle cx="1262.3" cy="1167.5" r="8.94"/><circle cx="1263.35" cy="1165.67" r="8.94"/><circle cx="1263.35" cy="1168.56" r="8.94"/><circle cx="1267.55" cy="1164.34" r="8.94"/><circle cx="1268.6" cy="1164.29" r="8.94"/><circle cx="1269.64" cy="1167.47" r="8.94"/><circle cx="1271.72" cy="1164.14" r="8.94"/><circle cx="1271.72" cy="1165.16" r="8.94"/><circle cx="1271.72" cy="1166.01" r="8.94"/><circle cx="1271.72" cy="1168.58" r="8.94"/><circle cx="1272.76" cy="1168.4" r="8.94"/><circle cx="1274.83" cy="1168.06" r="8.94"/><circle cx="1276.9" cy="1163.94" r="8.94"/><circle cx="1276.9" cy="1166.38" r="8.94"/><circle cx="1277.93" cy="1167.58" r="8.94"/><circle cx="1282.02" cy="1164.69" r="8.94"/><circle cx="1282.02" cy="1166.98" r="8.94"/><circle cx="1284.06" cy="1163.74" r="8.94"/><circle cx="1285.08" cy="1162.69" r="8.94"/><circle cx="1285.08" cy="1165.33" r="8.94"/><circle cx="1287.11" cy="1162.67" r="8.94"/><circle cx="1287.11" cy="1166.31" r="8.94"/><circle cx="1291.14" cy="1162.66" r="8.94"/><circle cx="1293.15" cy="1163.6" r="8.94"/><circle cx="1293.15" cy="1165.62" r="8.94"/><circle cx="1294.15" cy="1164.39" r="8.94"/><circle cx="1296.14" cy="1166.7" r="8.94"/><circle cx="1297.14" cy="1162.68" r="8.94"/><circle cx="1297.14" cy="1166.59" r="8.94"/><circle cx="1299.13" cy="1166.37" r="8.94"/><circle cx="1300.12" cy="1164.94" r="8.94"/><circle cx="1302.1" cy="1161.73" r="8.94"/><circle cx="1302.1" cy="1166.08" r="8.94"/><circle cx="1303.08" cy="1161.76" r="8.94"/><circle cx="1304.07" cy="1163.61" r="8.94"/><circle cx="1305.05" cy="1162.78" r="8.94"/><circle cx="1306.03" cy="1161.84" r="8.94"/><circle cx="1306.03" cy="1165.72" r="8.94"/><circle cx="1307.99" cy="1164.33" r="8.94"/><circle cx="1310.91" cy="1162" r="8.94"/><circle cx="1310.91" cy="1165.33" r="8.94"/><circle cx="1314.79" cy="1163.03" r="8.94"/><circle cx="1316.72" cy="1163.83" r="8.94"/><circle cx="1316.72" cy="1164.95" r="8.94"/><circle cx="1317.69" cy="1162.27" r="8.94"/><circle cx="1319.61" cy="1161.39" r="8.94"/><circle cx="1321.52" cy="1161.5" r="8.94"/><circle cx="1323.43" cy="1164.61" r="8.94"/><circle cx="1325.34" cy="1161.73" r="8.94"/><circle cx="1326.29" cy="1162.7" r="8.94"/><circle cx="1326.29" cy="1163.48" r="8.94"/><circle cx="1331.01" cy="1162.1" r="8.94"/><circle cx="1331.01" cy="1164.35" r="8.94"/><circle cx="1336.64" cy="1161.55" r="8.94"/><circle cx="1336.64" cy="1163.33" r="8.94"/><circle cx="1337.57" cy="1161.63" r="8.94"/><circle cx="1338.5" cy="1162.65" r="8.94"/><circle cx="1339.43" cy="1164.2" r="8.94"/><circle cx="1340.36" cy="1161.87" r="8.94"/><circle cx="1344.99" cy="1162.28" r="8.94"/><circle cx="1347.74" cy="1163.39" r="8.94"/><circle cx="1348.66" cy="1164.2" r="8.94"/><circle cx="1351.41" cy="1162.88" r="8.94"/><circle cx="1354.14" cy="1162.22" r="8.94"/><circle cx="1355.95" cy="1162.41" r="8.94"/><circle cx="1358.66" cy="1164.37" r="8.94"/><circle cx="1359.57" cy="1162.81" r="8.94"/><circle cx="1359.57" cy="1163.69" r="8.94"/><circle cx="1364.95" cy="1163.41" r="8.94"/><circle cx="1369.41" cy="1164.73" r="8.94"/><circle cx="1371.18" cy="1163.22" r="8.94"/><circle cx="1372.07" cy="1163.34" r="8.94"/><circle cx="1372.07" cy="1164.24" r="8.94"/><circle cx="1374.71" cy="1163.67" r="8.94"/><circle cx="1379.11" cy="1164.24" r="8.94"/><circle cx="1380.85" cy="1165.29" r="8.94"/><circle cx="1385.21" cy="1165.04" r="8.94"/><circle cx="1388.67" cy="1164.61" r="8.94"/><circle cx="1390.39" cy="1164.86" r="8.94"/><circle cx="1392.97" cy="1166.07" r="8.94"/><circle cx="1393.83" cy="1165.35" r="8.94"/><circle cx="1398.95" cy="1166.08" r="8.94"/><circle cx="1405.72" cy="1166.24" r="8.94"/><circle cx="1405.72" cy="1167.09" r="8.94"/><circle cx="1406.57" cy="1166.38" r="8.94"/><circle cx="1409.09" cy="1166.8" r="8.94"/><circle cx="1413.27" cy="1167.51" r="8.94"/><circle cx="1419.08" cy="1168.51" r="8.94"/><circle cx="1423.2" cy="1168.55" r="8.94"/><circle cx="1424.84" cy="1168.86" r="8.94"/><circle cx="1428.12" cy="1169.47" r="8.94"/><circle cx="1433" cy="1170.35" r="8.94"/><circle cx="1440.27" cy="1171.21" r="8.94"/><circle cx="1441.07" cy="1171.36" r="8.94"/><circle cx="1443.47" cy="1171.8" r="8.94"/><circle cx="1447.46" cy="1172.51" r="8.94"/><circle cx="1457.73" cy="1174.04" r="8.94"/><circle cx="1459.3" cy="1174.3" r="8.94"/><circle cx="1462.43" cy="1174.8" r="8.94"/><circle cx="1474.81" cy="1176.56" r="8.94"/><circle cx="1475.58" cy="1176.67" r="8.94"/><circle cx="1477.87" cy="1176.97" r="8.94"/><circle cx="1492.27" cy="1178.78" r="8.94"/><circle cx="1493.77" cy="1178.97" r="8.94"/><circle cx="1509.35" cy="1180.92" r="8.94"/><circle cx="1510.09" cy="1181.01" r="8.94"/><circle cx="1526.8" cy="1183.08" r="8.94"/><circle cx="1543.89" cy="1185.13" r="8.94"/></g>
<g fill="#ff0000"><circle cx="714.87" cy="915.24" r="8.94"/><circle cx="736.22" cy="918.88" r="8.94"/><circle cx="749.41" cy="922.49" r="8.94"/><circle cx="759.87" cy="926.07" r="8.94"/><circle cx="768.81" cy="929.61" r="8.94"/><circle cx="783.96" cy="936.6" r="8.94"/><circle cx="783.96" cy="936.6" r="8.94"/><circle cx="790.61" cy="940.04" r="8.94"/><circle cx="802.66" cy="946.83" r="8.94"/><circle cx="808.19" cy="950.18" r="8.94"/><circle cx="813.46" cy="953.49" r="8.94"/><circle cx="818.5" cy="956.78" r="8.94"/><circle cx="823.34" cy="960.03" r="8.94"/><circle cx="832.49" cy="966.44" r="8.94"/><circle cx="836.85" cy="969.6" r="8.94"/><circle cx="836.85" cy="969.6" r="8.94"/><circle cx="845.17" cy="975.83" r="8.94"/><circle cx="853.04" cy="981.94" r="8.94"/><circle cx="856.83" cy="984.95" r="8.94"/><circle cx="856.83" cy="984.95" r="8.94"/><circle cx="860.54" cy="987.93" r="8.94"/><circle cx="867.7" cy="993.81" r="8.94"/><circle cx="871.17" cy="996.71" r="8.94"/><circle cx="877.92" cy="1002.42" r="8.94"/><circle cx="881.2" cy="1005.23" r="8.94"/><circle cx="884.42" cy="1008.02" r="8.94"/><circle cx="887.58" cy="1010.78" r="8.94"/><circle cx="890.7" cy="1013.51" r="8.94"/><circle cx="890.7" cy="1013.51" r="8.94"/><circle cx="899.76" cy="1021.55" r="8.94"/><circle cx="905.57" cy="1026.78" r="8.94"/><circle cx="905.57" cy="1026.78" r="8.94"/><circle cx="908.42" cy="1029.35" r="8.94"/><circle cx="911.23" cy="1031.91" r="8.94"/><circle cx="914.01" cy="1034.43" r="8.94"/><circle cx="922.13" cy="1041.86" r="8.94"/><circle cx="922.13" cy="1041.86" r="8.94"/><circle cx="924.77" cy="1044.29" r="8.94"/><circle cx="929.96" cy="1049.08" r="8.94"/><circle cx="932.52" cy="1051.44" r="8.94"/><circle cx="932.52" cy="1051.44" r="8.94"/><circle cx="937.54" cy="1056.08" r="8.94"/><circle cx="940.01" cy="1058.37" r="8.94"/><circle cx="944.89" cy="1062.88" r="8.94"/><circle cx="944.89" cy="1062.88" r="8.94"/><circle cx="954.36" cy="1071.63" r="8.94"/><circle cx="954.36" cy="1071.63" r="8.94"/><circle cx="956.67" cy="1073.76" r="8.94"/><circle cx="956.67" cy="1073.76" r="8.94"/><circle cx="958.96" cy="1075.88" r="8.94"/><circle cx="961.24" cy="1077.97" r="8.94"/><circle cx="965.72" cy="1082.09" r="8.94"/><circle cx="967.94" cy="1084.12" r="8.94"/><circle cx="974.48" cy="1090.08" r="8.94"/><circle cx="976.63" cy="1092.03" r="8.94"/><circle cx="978.76" cy="1093.96" r="8.94"/><circle cx="978.76" cy="1093.96" r="8.94"/><circle cx="980.87" cy="1095.86" r="8.94"/><circle cx="985.05" cy="1099.62" r="8.94"/><circle cx="987.12" cy="1101.48" r="8.94"/><circle cx="991.21" cy="1105.13" r="8.94"/><circle cx="991.21" cy="1105.12" r="8.94"/><circle cx="993.24" cy="1106.93" r="8.94"/><circle cx="999.23" cy="1112.21" r="8.94"/><circle cx="999.23" cy="1112.19" r="8.94"/><circle cx="1003.16" cy="1115.56" r="8.94"/><circle cx="1005.11" cy="1117.25" r="8.94"/><circle cx="1008.96" cy="1120.72" r="8.94"/><circle cx="1008.96" cy="1120.65" r="8.94"/><circle cx="1008.96" cy="1120.56" r="8.94"/><circle cx="1012.77" cy="1123.98" r="8.94"/><circle cx="1014.66" cy="1125.42" r="8.94"/><circle cx="1020.25" cy="1130.28" r="8.94"/><circle cx="1022.1" cy="1131.68" r="8.94"/><circle cx="1025.75" cy="1134.99" r="8.94"/><circle cx="1027.57" cy="1136.48" r="8.94"/><circle cx="1027.57" cy="1135.97" r="8.94"/><circle cx="1029.37" cy="1137.44" r="8.94"/><circle cx="1031.16" cy="1139.19" r="8.94"/><circle cx="1032.95" cy="1140.83" r="8.94"/><circle cx="1032.95" cy="1140.35" r="8.94"/><circle cx="1038.24" cy="1144.62" r="8.94"/><circle cx="1041.73" cy="1147.74" r="8.94"/><circle cx="1043.46" cy="1149.4" r="8.94"/><circle cx="1045.18" cy="1150.13" r="8.94"/><circle cx="1046.89" cy="1152.03" r="8.94"/><circle cx="1051.98" cy="1154.88" r="8.94"/><circle cx="1053.66" cy="1157.09" r="8.94"/><circle cx="1053.66" cy="1156.73" r="8.94"/><circle cx="1053.66" cy="1156.17" r="8.94"/><circle cx="1056.99" cy="1158.71" r="8.94"/><circle cx="1060.3" cy="1162.41" r="8.94"/><circle cx="1061.94" cy="1163.58" r="8.94"/><circle cx="1061.94" cy="1162.44" r="8.94"/><circle cx="1063.57" cy="1164.24" r="8.94"/><circle cx="1066.82" cy="1167.01" r="8.94"/><circle cx="1068.43" cy="1167.24" r="8.94"/><circle cx="1074.81" cy="1172.44" r="8.94"/><circle cx="1076.39" cy="1172.98" r="8.94"/><circle cx="1076.39" cy="1172.12" r="8.94"/><circle cx="1077.96" cy="1175.18" r="8.94"/><circle cx="1077.96" cy="1173.23" r="8.94"/><circle cx="1081.09" cy="1177.2" r="8.94"/><circle cx="1081.09" cy="1175.43" r="8.94"/><circle cx="1085.72" cy="1179.5" r="8.94"/><circle cx="1085.72" cy="1178.64" r="8.94"/><circle cx="1087.26" cy="1181.11" r="8.94"/><circle cx="1091.82" cy="1182.78" r="8.94"/><circle cx="1094.84" cy="1186.52" r="8.94"/><circle cx="1096.34" cy="1187.41" r="8.94"/><circle cx="1096.34" cy="1186.6" r="8.94"/><circle cx="1099.32" cy="1187.72" r="8.94"/><circle cx="1100.8" cy="1189.99" r="8.94"/><circle cx="1100.8" cy="1187.53" r="8.94"/><circle cx="1102.28" cy="1188.48" r="8.94"/><circle cx="1105.22" cy="1190.36" r="8.94"/><circle cx="1108.13" cy="1194.08" r="8.94"/><circle cx="1108.13" cy="1193.31" r="8.94"/><circle cx="1109.58" cy="1193.11" r="8.94"/><circle cx="1112.47" cy="1197.34" r="8.94"/><circle cx="1115.34" cy="1198.83" r="8.94"/><circle cx="1115.34" cy="1196.63" r="8.94"/><circle cx="1118.18" cy="1199.38" r="8.94"/><circle cx="1121.01" cy="1201.7" r="8.94"/><circle cx="1122.42" cy="1200.82" r="8.94"/><circle cx="1125.22" cy="1201.05" r="8.94"/><circle cx="1126.61" cy="1201.86" r="8.94"/><circle cx="1129.38" cy="1206.77" r="8.94"/><circle cx="1129.38" cy="1205.73" r="8.94"/><circle cx="1129.38" cy="1203.44" r="8.94"/><circle cx="1130.76" cy="1207.4" r="8.94"/><circle cx="1130.76" cy="1205.55" r="8.94"/><circle cx="1133.51" cy="1205.75" r="8.94"/><circle cx="1134.87" cy="1209.25" r="8.94"/><circle cx="1138.95" cy="1208.71" r="8.94"/><circle cx="1140.3" cy="1210.64" r="8.94"/><circle cx="1141.64" cy="1212.16" r="8.94"/><circle cx="1145.66" cy="1212.21" r="8.94"/><circle cx="1146.99" cy="1215.47" r="8.94"/><circle cx="1149.63" cy="1216.5" r="8.94"/><circle cx="1149.63" cy="1212.7" r="8.94"/><circle cx="1150.95" cy="1215.94" r="8.94"/><circle cx="1150.95" cy="1213.37" r="8.94"/><circle cx="1153.58" cy="1216.13" r="8.94"/><circle cx="1153.58" cy="1214.68" r="8.94"/><circle cx="1154.88" cy="1218.49" r="8.94"/><circle cx="1157.48" cy="1216.59" r="8.94"/><circle cx="1162.64" cy="1221.27" r="8.94"/><circle cx="1162.64" cy="1220.34" r="8.94"/><circle cx="1162.64" cy="1219.02" r="8.94"/><circle cx="1163.93" cy="1222.85" r="8.94"/><circle cx="1165.2" cy="1223.27" r="8.94"/><circle cx="1169.01" cy="1224.5" r="8.94"/><circle cx="1169.01" cy="1221.89" r="8.94"/><circle cx="1172.8" cy="1224.67" r="8.94"/><circle cx="1174.05" cy="1222.52" r="8.94"/><circle cx="1175.3" cy="1226.45" r="8.94"/><circle cx="1175.3" cy="1223.06" r="8.94"/><circle cx="1176.55" cy="1225.08" r="8.94"/><circle cx="1177.79" cy="1224.13" r="8.94"/><circle cx="1181.5" cy="1229.38" r="8.94"/><circle cx="1181.5" cy="1225.67" r="8.94"/><circle cx="1183.96" cy="1230.05" r="8.94"/><circle cx="1183.96" cy="1228.98" r="8.94"/><circle cx="1185.19" cy="1228.46" r="8.94"/><circle cx="1186.41" cy="1227.61" r="8.94"/><circle cx="1188.85" cy="1231.33" r="8.94"/><circle cx="1192.48" cy="1229.89" r="8.94"/><circle cx="1194.88" cy="1231.91" r="8.94"/><circle cx="1196.08" cy="1233.13" r="8.94"/><circle cx="1198.47" cy="1234.78" r="8.94"/><circle cx="1198.47" cy="1230.53" r="8.94"/><circle cx="1199.66" cy="1235.04" r="8.94"/><circle cx="1199.66" cy="1232.4" r="8.94"/><circle cx="1199.66" cy="1230.96" r="8.94"/><circle cx="1202.03" cy="1231.78" r="8.94"/><circle cx="1203.21" cy="1235.81" r="8.94"/><circle cx="1205.56" cy="1235.32" r="8.94"/><circle cx="1205.56" cy="1232.98" r="8.94"/><circle cx="1207.91" cy="1235.04" r="8.94"/><circle cx="1209.08" cy="1237.02" r="8.94"/><circle cx="1210.24" cy="1234.48" r="8.94"/><circle cx="1216.03" cy="1239.4" r="8.94"/><circle cx="1216.03" cy="1236.23" r="8.94"/><circle cx="1217.18" cy="1238.57" r="8.94"/><circle cx="1217.18" cy="1237.72" r="8.94"/><circle cx="1218.32" cy="1239.79" r="8.94"/><circle cx="1222.89" cy="1240.54" r="8.94"/><circle cx="1222.89" cy="1238.14" r="8.94"/><circle cx="1222.89" cy="1236.74" r="8.94"/><circle cx="1224.02" cy="1237.06" r="8.94"/><circle cx="1226.28" cy="1237.68" r="8.94"/><circle cx="1227.41" cy="1240.33" r="8.94"/><circle cx="1229.66" cy="1241.57" r="8.94"/><circle cx="1229.66" cy="1238.58" r="8.94"/><circle cx="1230.78" cy="1240.14" r="8.94"/><circle cx="1233.01" cy="1243.06" r="8.94"/><circle cx="1234.12" cy="1243.2" r="8.94"/><circle cx="1234.12" cy="1239.7" r="8.94"/><circle cx="1237.45" cy="1243.61" r="8.94"/><circle cx="1238.55" cy="1242.79" r="8.94"/><circle cx="1239.65" cy="1242.15" r="8.94"/><circle cx="1239.65" cy="1241" r="8.94"/><circle cx="1242.95" cy="1244.23" r="8.94"/><circle cx="1246.22" cy="1242.41" r="8.94"/><circle cx="1247.31" cy="1241.28" r="8.94"/><circle cx="1248.39" cy="1241.51" r="8.94"/><circle cx="1249.47" cy="1244.07" r="8.94"/><circle cx="1250.55" cy="1245.99" r="8.94"/><circle cx="1250.55" cy="1245.01" r="8.94"/><circle cx="1250.55" cy="1241.96" r="8.94"/><circle cx="1252.71" cy="1246.17" r="8.94"/><circle cx="1253.78" cy="1243.86" r="8.94"/><circle cx="1253.78" cy="1242.6" r="8.94"/><circle cx="1256.99" cy="1246.5" r="8.94"/><circle cx="1258.05" cy="1243.41" r="8.94"/><circle cx="1260.18" cy="1245.84" r="8.94"/><circle cx="1262.3" cy="1245.28" r="8.94"/><circle cx="1263.35" cy="1246.93" r="8.94"/><circle cx="1263.35" cy="1244.32" r="8.94"/><circle cx="1267.55" cy="1248.13" r="8.94"/><circle cx="1268.6" cy="1248.18" r="8.94"/><circle cx="1269.64" cy="1245.3" r="8.94"/><circle cx="1271.72" cy="1248.31" r="8.94"/><circle cx="1271.72" cy="1247.39" r="8.94"/><circle cx="1271.72" cy="1246.62" r="8.94"/><circle cx="1271.72" cy="1244.31" r="8.94"/><circle cx="1272.76" cy="1244.47" r="8.94"/><circle cx="1274.83" cy="1244.77" r="8.94"/><circle cx="1276.9" cy="1248.49" r="8.94"/><circle cx="1276.9" cy="1246.29" r="8.94"/><circle cx="1277.93" cy="1245.21" r="8.94"/><circle cx="1282.02" cy="1247.81" r="8.94"/><circle cx="1282.02" cy="1245.75" r="8.94"/><circle cx="1284.06" cy="1248.67" r="8.94"/><circle cx="1285.08" cy="1249.62" r="8.94"/><circle cx="1285.08" cy="1247.24" r="8.94"/><circle cx="1287.11" cy="1249.63" r="8.94"/><circle cx="1287.11" cy="1246.35" r="8.94"/><circle cx="1291.14" cy="1249.65" r="8.94"/><circle cx="1293.15" cy="1248.8" r="8.94"/><circle cx="1293.15" cy="1246.98" r="8.94"/><circle cx="1294.15" cy="1248.09" r="8.94"/><circle cx="1296.14" cy="1246" r="8.94"/><circle cx="1297.14" cy="1249.63" r="8.94"/><circle cx="1297.14" cy="1246.1" r="8.94"/><circle cx="1299.13" cy="1246.3" r="8.94"/><circle cx="1300.12" cy="1247.59" r="8.94"/><circle cx="1302.1" cy="1250.48" r="8.94"/><circle cx="1302.1" cy="1246.57" r="8.94"/><circle cx="1303.08" cy="1250.46" r="8.94"/><circle cx="1304.07" cy="1248.79" r="8.94"/><circle cx="1305.05" cy="1249.53" r="8.94"/><circle cx="1306.03" cy="1250.39" r="8.94"/><circle cx="1306.03" cy="1246.89" r="8.94"/><circle cx="1307.99" cy="1248.14" r="8.94"/><circle cx="1310.91" cy="1250.24" r="8.94"/><circle cx="1310.91" cy="1247.24" r="8.94"/><circle cx="1314.79" cy="1249.31" r="8.94"/><circle cx="1316.72" cy="1248.59" r="8.94"/><circle cx="1316.72" cy="1247.58" r="8.94"/><circle cx="1317.69" cy="1249.99" r="8.94"/><circle cx="1319.61" cy="1250.79" r="8.94"/><circle cx="1321.52" cy="1250.69" r="8.94"/><circle cx="1323.43" cy="1247.89" r="8.94"/><circle cx="1325.34" cy="1250.48" r="8.94"/><circle cx="1326.29" cy="1249.61" r="8.94"/><circle cx="1326.29" cy="1248.9" r="8.94"/><circle cx="1331.01" cy="1250.15" r="8.94"/><circle cx="1331.01" cy="1248.12" r="8.94"/><circle cx="1336.64" cy="1250.64" r="8.94"/><circle cx="1336.64" cy="1249.04" r="8.94"/><circle cx="1337.57" cy="1250.57" r="8.94"/><circle cx="1338.5" cy="1249.66" r="8.94"/><circle cx="1339.43" cy="1248.26" r="8.94"/><circle cx="1340.36" cy="1250.36" r="8.94"/><circle cx="1344.99" cy="1249.99" r="8.94"/><circle cx="1347.74" cy="1248.99" r="8.94"/><circle cx="1348.66" cy="1248.26" r="8.94"/><circle cx="1351.41" cy="1249.45" r="8.94"/><circle cx="1354.14" cy="1250.04" r="8.94"/><circle cx="1355.95" cy="1249.87" r="8.94"/><circle cx="1358.66" cy="1248.11" r="8.94"/><circle cx="1359.57" cy="1249.51" r="8.94"/><circle cx="1359.57" cy="1248.72" r="8.94"/><circle cx="1364.95" cy="1248.97" r="8.94"/><circle cx="1369.41" cy="1247.78" r="8.94"/><circle cx="1371.18" cy="1249.14" r="8.94"/><circle cx="1372.07" cy="1249.03" r="8.94"/><circle cx="1372.07" cy="1248.22" r="8.94"/><circle cx="1374.71" cy="1248.73" r="8.94"/><circle cx="1379.11" cy="1248.22" r="8.94"/><circle cx="1380.85" cy="1247.27" r="8.94"/><circle cx="1385.21" cy="1247.5" r="8.94"/><circle cx="1388.67" cy="1247.88" r="8.94"/><circle cx="1390.39" cy="1247.66" r="8.94"/><circle cx="1392.97" cy="1246.57" r="8.94"/><circle cx="1393.83" cy="1247.22" r="8.94"/><circle cx="1398.95" cy="1246.56" r="8.94"/><circle cx="1405.72" cy="1246.42" r="8.94"/><circle cx="1405.72" cy="1245.65" r="8.94"/><circle cx="1406.57" cy="1246.29" r="8.94"/><circle cx="1409.09" cy="1245.91" r="8.94"/><circle cx="1413.27" cy="1245.27" r="8.94"/><circle cx="1419.08" cy="1244.37" r="8.94"/><circle cx="1423.2" cy="1244.33" r="8.94"/><circle cx="1424.84" cy="1244.06" r="8.94"/><circle cx="1428.12" cy="1243.51" r="8.94"/><circle cx="1433" cy="1242.71" r="8.94"/><circle cx="1440.27" cy="1241.93" r="8.94"/><circle cx="1441.07" cy="1241.8" r="8.94"/><circle cx="1443.47" cy="1241.4" r="8.94"/><circle cx="1447.46" cy="1240.77" r="8.94"/><circle cx="1457.73" cy="1239.39" r="8.94"/><circle cx="1459.3" cy="1239.15" r="8.94"/><circle cx="1462.43" cy="1238.7" r="8.94"/><circle cx="1474.81" cy="1237.11" r="8.94"/><circle cx="1475.58" cy="1237.01" r="8.94"/><circle cx="1477.87" cy="1236.74" r="8.94"/><circle cx="1492.27" cy="1235.11" r="8.94"/><circle cx="1493.77" cy="1234.94" r="8.94"/><circle cx="1509.35" cy="1233.18" r="8.94"/><circle cx="1510.09" cy="1233.09" r="8.94"/><circle cx="1526.8" cy="1231.24" r="8.94"/><circle cx="1543.89" cy="1229.38" r="8.94"/></g>
<path d="M1096.55 1564.04V884.93" stroke="#808080" stroke-opacity="0.8" stroke-width="3.83" stroke-dasharray="14.17 6.13" fill="none"/>
<path d="M697.6 1564.04v8.94M857.18 1564.04v8.94M1016.76 1564.04v8.94M1176.34 1564.04v8.94M1335.92 1564.04v8.94M1495.5 1564.04v8.94M673.55 1491.27h-8.94M673.55 1396.98h-8.94M673.55 1302.69h-8.94M673.55 1208.4h-8.94M673.55 1114.11h-8.94M673.55 1019.82h-8.94M673.55 925.53h-8.94" stroke="#000" stroke-width="2.04" fill="none"/>
<rect x="1181" y="1468.5" width="391.7" height="83" rx="5.11" ry="5.11" fill="#fff" fill-opacity="0.8" stroke="#ccc" stroke-opacity="0.8" stroke-width="2.55"/>
<circle cx="1216.9" cy="1489.5" r="8.94" fill="#0000ff"/>
<circle cx="1216.9" cy="1527.2" r="8.94" fill="#ff0000"/>
<rect x="673.55" y="884.93" width="911.9" height="679.11" fill="none" stroke="#000" stroke-width="2.04"/>
<g font-family="'DejaVu Sans','Liberation Sans',sans-serif" font-size="25.53" fill="#000" stroke="#000" stroke-width="0.3"><text x="1262.7" y="1498.5">Internal heating model</text><text x="1262.7" y="1536.2">External heating model</text><text x="697.6" y="1601.89" text-anchor="middle">0</text><text x="857.18" y="1601.89" text-anchor="middle">100</text><text x="1016.76" y="1601.89" text-anchor="middle">200</text><text x="1176.34" y="1601.89" text-anchor="middle">300</text><text x="1335.92" y="1601.89" text-anchor="middle">400</text><text x="1495.5" y="1601.89" text-anchor="middle">500</text><text x="655.68" y="1501.07" text-anchor="end">−60</text><text x="655.68" y="1406.78" text-anchor="end">−40</text><text x="655.68" y="1312.49" text-anchor="end">−20</text><text x="655.68" y="1218.2" text-anchor="end">0</text><text x="655.68" y="1123.91" text-anchor="end">20</text><text x="655.68" y="1029.62" text-anchor="end">40</text><text x="655.68" y="935.33" text-anchor="end">60</text><text x="1129.5" y="1637.4" text-anchor="middle">Distance from source center (au)</text><text transform="translate(585.8 1223.58) rotate(-90)" text-anchor="middle">Model Δ<tspan font-style="italic">T</tspan><tspan font-style="italic" font-size="17.87" dy="4.85">ex</tspan><tspan dy="-4.85"> (K)</tspan></text></g>
<g font-family="'Liberation Serif','DejaVu Serif',serif" fill="#000" stroke="#fff"><text><tspan x="487.95" y="842.8" font-size="48.8" stroke-width="0.6" textLength="13.65" lengthAdjust="spacingAndGlyphs">(</tspan><tspan x="502.1" y="842.65" font-size="42.5" stroke-width="0.25" textLength="21.82" lengthAdjust="spacingAndGlyphs">a</tspan><tspan x="524.4" y="842.8" font-size="48.8" stroke-width="0.6" textLength="13.65" lengthAdjust="spacingAndGlyphs">)</tspan></text><text><tspan x="1584.65" y="842.8" font-size="48.8" stroke-width="0.6" textLength="13.65" lengthAdjust="spacingAndGlyphs">(</tspan><tspan x="1600" y="842.65" font-size="43.7" stroke-width="0.25" textLength="23.66" lengthAdjust="spacingAndGlyphs">b</tspan><tspan x="1623.7" y="842.8" font-size="48.8" stroke-width="0.6" textLength="13.65" lengthAdjust="spacingAndGlyphs">)</tspan></text><text><tspan x="1109.35" y="1707" font-size="48.8" stroke-width="0.6" textLength="13.65" lengthAdjust="spacingAndGlyphs">(</tspan><tspan x="1123.3" y="1706.85" font-size="41.9" stroke-width="0.25" textLength="20.27" lengthAdjust="spacingAndGlyphs">c</tspan><tspan x="1143.7" y="1707" font-size="48.8" stroke-width="0.6" textLength="13.65" lengthAdjust="spacingAndGlyphs">)</tspan></text></g>
</svg></body></html>
